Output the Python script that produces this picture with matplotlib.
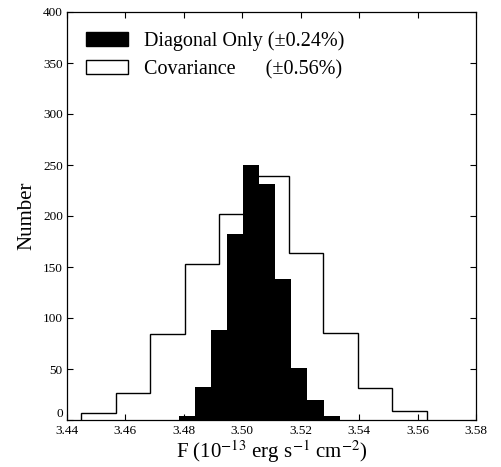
import numpy as np
import matplotlib
matplotlib.use('Agg')
import matplotlib.pyplot as plt
from matplotlib.patches import Patch

plt.rcParams['font.family'] = ['Liberation Serif', 'DejaVu Serif']
plt.rcParams['mathtext.fontset'] = 'stix'
plt.rc('xtick', labelsize=9.5)
plt.rc('ytick', labelsize=9.5)
label_font_size = 15

# histogram (1000 realisations each)
diag_edges = [3.4782, 3.4837, 3.4892, 3.4947, 3.5002, 3.5057,
              3.5112, 3.5167, 3.5222, 3.5278, 3.5334]
diag_counts = [4, 32, 88, 182, 250, 231, 138, 51, 20, 4]

cov_edges = [3.4448, 3.4567, 3.4685, 3.4804, 3.4922, 3.5040,
             3.5159, 3.5277, 3.5395, 3.5514, 3.5632]
cov_counts = [7, 26, 84, 153, 202, 239, 164, 85, 31, 9]

x_ticks = [3.44, 3.46, 3.48, 3.50, 3.52, 3.54, 3.56, 3.58]
y_ticks = [0, 50, 100, 150, 200, 250, 300, 350, 400]

fig = plt.figure(figsize=(5.01, 4.67), dpi=100)
ax = fig.add_axes([67/501, 1 - 420/467, 409/501, 408/467])

ax.stairs(diag_counts, diag_edges, fill=True, color='black', linewidth=0)
ax.stairs(cov_counts, cov_edges, baseline=0, color='black', linewidth=1.0)

ax.set_xlim(3.44, 3.58)
ax.set_ylim(0, 400)
ax.set_xticks(x_ticks)
ax.set_xticklabels(['%.2f' % t for t in x_ticks])
ax.set_yticks(y_ticks)
ax.set_yticklabels([str(t) for t in y_ticks])
ax.get_yticklabels()[0].set_verticalalignment('bottom')  # "0" sits just above the x labels
ax.tick_params(direction='in', top=True, right=True, length=4, width=0.8)
ax.tick_params(axis='x', pad=3.5)
ax.tick_params(axis='y', pad=3)
for s in ax.spines.values():
    s.set_linewidth(0.9)

ax.set_xlabel(r'F (10$^{-13}$ erg s$^{-1}$ cm$^{-2}$)', fontsize=label_font_size, labelpad=1)
ax.set_ylabel('Number', fontsize=label_font_size, labelpad=5)

handles = [Patch(facecolor='black', edgecolor='black'),
           Patch(facecolor='white', edgecolor='black', linewidth=1.0)]
labels = ['Diagonal Only (\u00b10.24%)', 'Covariance' + ' ' * 6 + '(\u00b10.56%)']
ax.legend(handles, labels, loc='upper left', frameon=False, fontsize=14.5,
          handlelength=2.1, handleheight=0.7, handletextpad=0.75,
          labelspacing=0.45, borderaxespad=0.55)

fig.savefig('out.png', dpi=100)
